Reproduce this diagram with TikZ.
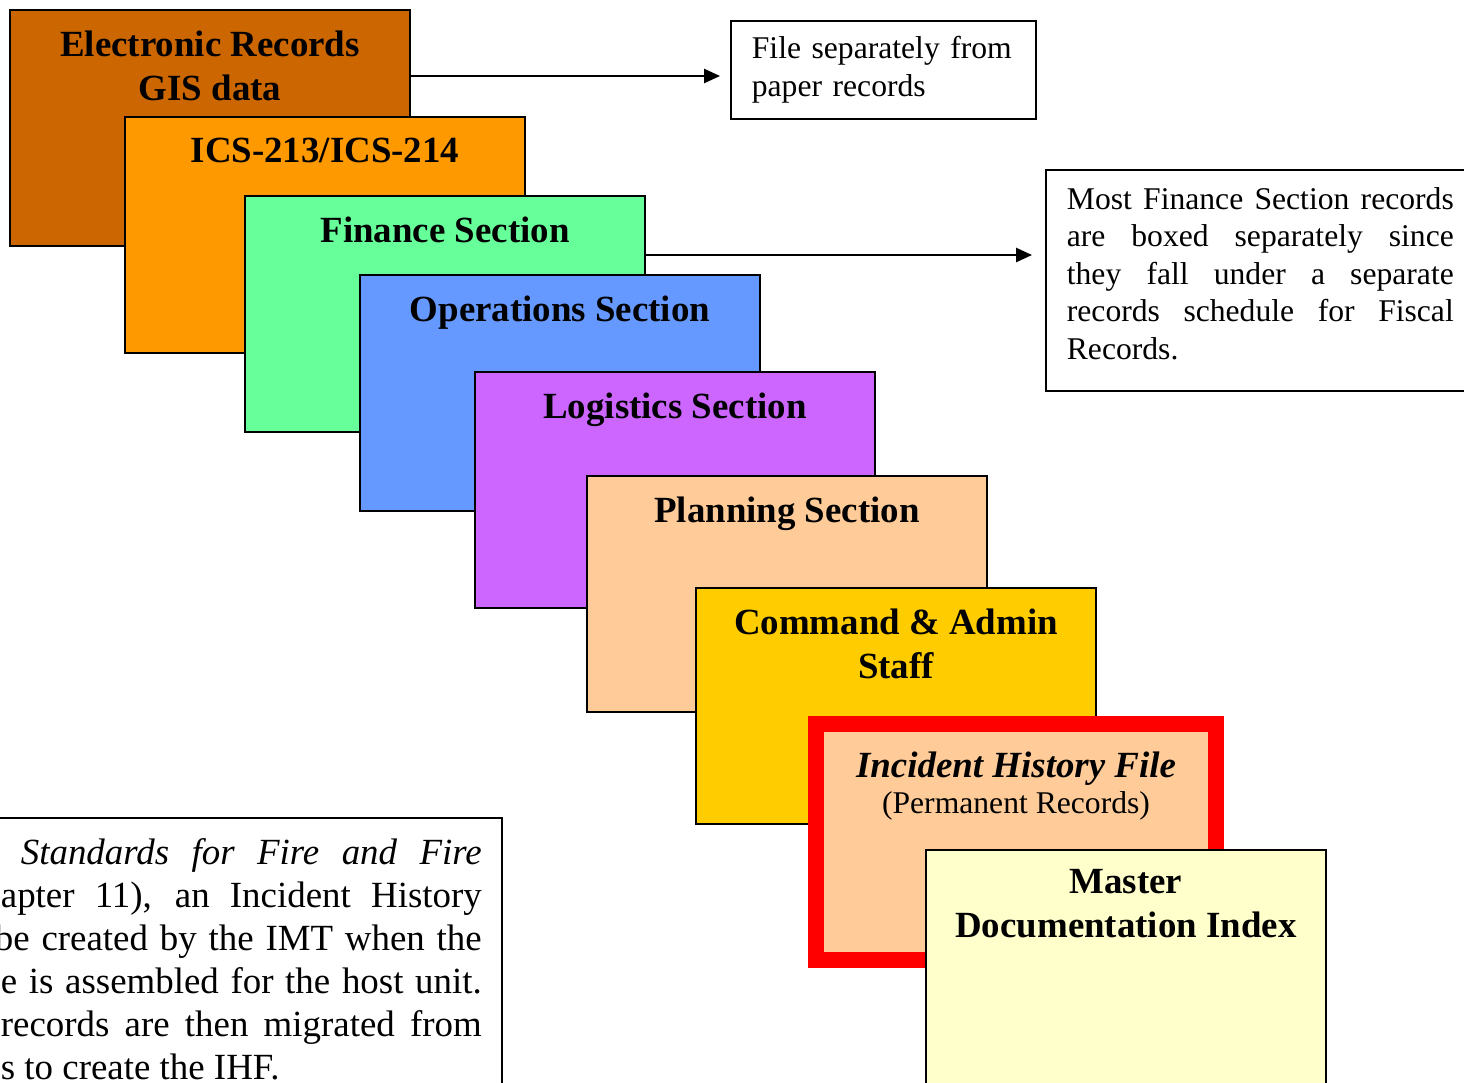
\documentclass[tikz,border=0pt]{standalone}
\usepackage{fontspec}
\setmainfont{Liberation Serif}
\usetikzlibrary{positioning,arrows.meta}

\definecolor{ercol}{HTML}{CC6600}
\definecolor{icscol}{HTML}{FF9900}
\definecolor{fincol}{HTML}{66FF99}
\definecolor{opscol}{HTML}{6699FF}
\definecolor{logcol}{HTML}{CC66FF}
\definecolor{plancol}{HTML}{FFCC99}
\definecolor{cmdcol}{HTML}{FFCC00}
\definecolor{mdicol}{HTML}{FFFFCC}

\tikzset{
	card/.style={draw, line width=0.8pt, minimum width=8cm, minimum height=4.72cm, inner sep=0pt},
	cardtitle/.style={font=\fontsize{21}{25}\selectfont\bfseries, align=center, inner sep=0pt},
	note/.style={draw, line width=1pt, fill=white},
	arr/.style={-{Triangle[length=9pt,width=8pt]}, line width=1.1pt}
}

\begin{document}
\begin{tikzpicture}[x=0.02cm, y=-0.02cm]
		\useasboundingbox (0,0) rectangle (1464,1082);
		\clip (0,0) rectangle (1464,1082);

		\node[card, fill=ercol] (er) at (210,128) {};
		\node[cardtitle, below=0.42cm of er.north] (ertitle) {Electronic Records\\GIS data};
		\node[card, fill=icscol] (ics) at (325,235) {};
		\node[cardtitle, below=0.42cm of ics.north] (icstitle) {ICS-213/ICS-214};
		\node[card, fill=fincol] (fin) at (445,314) {};
		\node[cardtitle, below=0.42cm of fin.north] (fintitle) {Finance Section};
		\node[card, fill=opscol] (ops) at (560,393) {};
		\node[cardtitle, below=0.42cm of ops.north] (opstitle) {Operations Section};
		\node[card, fill=logcol] (log) at (675,490) {};
		\node[cardtitle, below=0.42cm of log.north] (logtitle) {Logistics Section};
		\node[card, fill=plancol] (plan) at (787,594) {};
		\node[cardtitle, below=0.42cm of plan.north] (plantitle) {Planning Section};
		\node[card, fill=cmdcol] (cmd) at (896,706) {};
		\node[cardtitle, below=0.42cm of cmd.north] (cmdtitle) {Command \& Admin\\Staff};
		\node[card, draw=red, line width=0.32cm, fill=plancol] (ihf) at (1016,842) {};
		\node[cardtitle, below=0.72cm of ihf.north] (ihftitle) {\textit{Incident History File}\\[-4.6pt]{\fontsize{18}{20}\selectfont\mdseries (Permanent Records)}};
		\node[card, fill=mdicol] (mdi) at (1126,968) {};
		\node[cardtitle, below=0.4cm of mdi.north] (mdititle) {Master\\Documentation Index};

		% side notes
		\node[note, anchor=north west, text width=5.26cm, inner xsep=0.42cm, minimum height=1.96cm, align=left, font=\fontsize{18}{22}\selectfont] (filenote) at (730,20) {File separately from\\paper records};
		\node[note, anchor=north west, text width=7.74cm, inner xsep=0.42cm, inner ysep=0.35cm, text depth=3.29cm, align=justify, font=\fontsize{18}{21.3}\selectfont] (finnote) at (1045,169) {Most Finance Section records\linebreak are boxed separately since\linebreak they fall under a separate\linebreak records schedule for Fiscal\linebreak Records.};
		\node[note, anchor=north west, text width=9.62cm, inner xsep=0.4cm, inner ysep=0.42cm, align=justify, font=\fontsize{21}{24.4}\selectfont] (story) at (-20,817) {\hspace*{0.4cm}\textit{Standards for Fire and Fire}\linebreak apter 11), an Incident History\linebreak \hspace*{-0.12cm}be created by the IMT when the\linebreak e is assembled for the host unit.\linebreak records are then migrated from\linebreak s to create the IHF.};

		\coordinate (tipA) at (720,76);
		\coordinate (tipB) at (1032,255);
		\draw[arr] (er.east |- tipA) -- (tipA);
		\draw[arr] (fin.east |- tipB) -- (tipB);
	\end{tikzpicture}
\end{document}
